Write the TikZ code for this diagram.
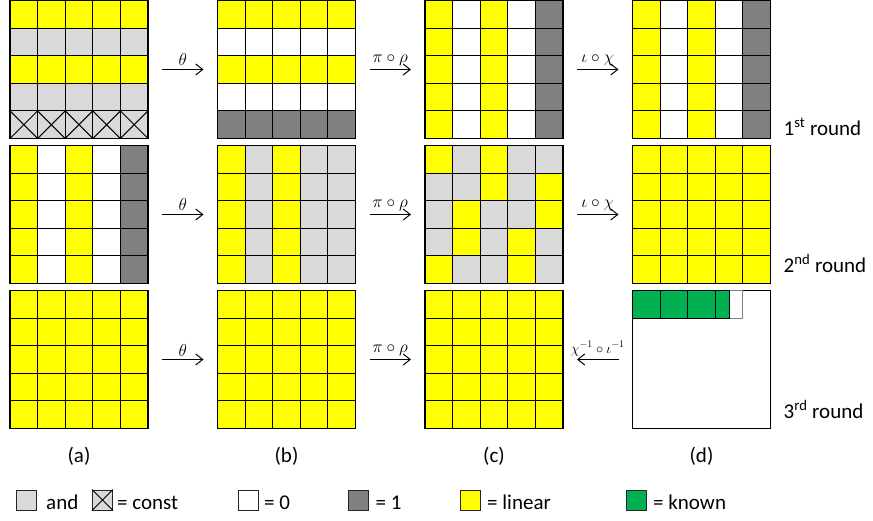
\documentclass[tikz,border=0pt]{standalone}
\usepackage{fontspec}
\setmainfont{Carlito}
\usetikzlibrary{positioning,arrows.meta}
\definecolor{linyellow}{RGB}{255,255,0}
\definecolor{andgray}{RGB}{217,217,217}
\definecolor{onegray}{RGB}{128,128,128}
\definecolor{knowngreen}{RGB}{0,176,80}
% one-letter colour codes for the cell lists
\colorlet{cY}{linyellow}
\colorlet{cG}{andgray}
\colorlet{cW}{white}
\colorlet{cD}{onegray}
\def\cs{27.6pt}
% #1 = frame node, #2 = macro holding the rows
\newcommand{\fillgrid}[2]{%
  \foreach \row [count=\r from 0] in #2 {
    \foreach \cl [count=\k from 0] in \row {
      \filldraw[cellline, fill=c\cl] ([shift={(\k*\cs,-\r*\cs)}]#1.north west) rectangle ++(\cs,-\cs);
    }
  }
}
\def\gridAone{{Y,Y,Y,Y,Y},{G,G,G,G,G},{Y,Y,Y,Y,Y},{G,G,G,G,G},{G,G,G,G,G}}
\def\gridBone{{Y,Y,Y,Y,Y},{W,W,W,W,W},{Y,Y,Y,Y,Y},{W,W,W,W,W},{D,D,D,D,D}}
\def\gridCols{{Y,W,Y,W,D},{Y,W,Y,W,D},{Y,W,Y,W,D},{Y,W,Y,W,D},{Y,W,Y,W,D}}
\def\gridBtwo{{Y,G,Y,G,G},{Y,G,Y,G,G},{Y,G,Y,G,G},{Y,G,Y,G,G},{Y,G,Y,G,G}}
\def\gridCtwo{{Y,G,Y,G,G},{G,G,Y,G,Y},{G,Y,G,G,Y},{G,Y,G,Y,G},{Y,G,G,Y,G}}
\def\gridYellow{{Y,Y,Y,Y,Y},{Y,Y,Y,Y,Y},{Y,Y,Y,Y,Y},{Y,Y,Y,Y,Y},{Y,Y,Y,Y,Y}}

\begin{document}
\begin{tikzpicture}[
    x=1pt, y=1pt,
    every node/.style={font=\fontsize{21}{25}\selectfont},
    frame/.style={minimum size=138pt, inner sep=0pt, outer sep=0pt},
    cellline/.style={draw=black, line width=1.1pt},
    flow/.style={line width=1pt, -{Straight Barb[length=7pt,width=11pt]}, shorten <=14pt, shorten >=14pt},
    maplbl/.style={above=2pt, inner sep=1pt, font=\fontsize{17}{19}\selectfont},
    roundlbl/.style={anchor=base west, inner sep=0pt},
    caplbl/.style={anchor=base, inner sep=0pt},
    legbox/.style={draw=black!85, line width=1pt, minimum size=20pt, inner sep=0pt},
    legtext/.style={inner sep=0pt, text height=18pt, text depth=0pt}
]
\useasboundingbox (0,0) rectangle (873,-521);

% grid frames
\node[frame] (a1) at (79,-69.5) {};
\node[frame, right=69.5pt of a1] (b1) {};
\node[frame, right=69.5pt of b1] (c1) {};
\node[frame, right=69.5pt of c1] (d1) {};
\node[frame, below=7pt of a1] (a2) {};
\node[frame, below=7pt of b1] (b2) {};
\node[frame, below=7pt of c1] (c2) {};
\node[frame, below=7pt of d1] (d2) {};
\node[frame, below=7pt of a2] (a3) {};
\node[frame, below=7pt of b2] (b3) {};
\node[frame, below=7pt of c2] (c3) {};
\node[frame, below=7pt of d2, draw=black, fill=white, line width=1.1pt] (d3) {};

% cells
\fillgrid{a1}{\gridAone}
\fillgrid{b1}{\gridBone}
\fillgrid{c1}{\gridCols}
\fillgrid{d1}{\gridCols}
\fillgrid{a2}{\gridCols}
\fillgrid{b2}{\gridBtwo}
\fillgrid{c2}{\gridCtwo}
\fillgrid{d2}{\gridYellow}
\fillgrid{a3}{\gridYellow}
\fillgrid{b3}{\gridYellow}
\fillgrid{c3}{\gridYellow}
\foreach \k in {0,...,4}
  \draw[line width=1pt] ([shift={(\k*\cs,-4*\cs)}]a1.north west) -- ++(\cs,-\cs) ++(-\cs,0) -- ++(\cs,\cs);
\foreach \k in {0,1,2}
  \filldraw[cellline, fill=knowngreen] ([xshift=\k*\cs]d3.north west) rectangle ++(\cs,-\cs);
\draw[gray, line width=1.1pt] ([xshift=3.5*\cs]d3.north west) rectangle ++(0.5*\cs,-\cs);
\filldraw[cellline, fill=knowngreen] ([xshift=3*\cs]d3.north west) rectangle ++(0.5*\cs,-\cs);

% mappings
\draw[flow] (a1) -- node[maplbl] {$\theta$} (b1);
\draw[flow] (b1) -- node[maplbl] {$\pi\circ\rho$} (c1);
\draw[flow] (c1) -- node[maplbl] {$\iota\circ\chi$} (d1);
\draw[flow] (a2) -- node[maplbl] {$\theta$} (b2);
\draw[flow] (b2) -- node[maplbl] {$\pi\circ\rho$} (c2);
\draw[flow] (c2) -- node[maplbl] {$\iota\circ\chi$} (d2);
\draw[flow] (a3) -- node[maplbl] {$\theta$} (b3);
\draw[flow] (b3) -- node[maplbl] {$\pi\circ\rho$} (c3);
\draw[flow] (d3) -- node[maplbl, font=\fontsize{14}{16}\selectfont] {$\chi^{-1}\circ\iota^{-1}$} (c3);

% rounds
\node[roundlbl] (rnd1) at ([xshift=13pt, yshift=3pt]d1.south east) {1\textsuperscript{st} round};
\node[roundlbl] (rnd2) at ([xshift=13pt, yshift=11pt]d2.south east) {2\textsuperscript{nd} round};
\node[roundlbl] (rnd3) at ([xshift=13pt, yshift=10pt]d3.south east) {3\textsuperscript{rd} round};

% captions
\node[caplbl] (capa) at ([yshift=-34pt]a3.south) {(a)};
\node[caplbl] (capb) at ([yshift=-34pt]b3.south) {(b)};
\node[caplbl] (capc) at ([yshift=-34pt]c3.south) {(c)};
\node[caplbl] (capd) at ([yshift=-34pt]d3.south) {(d)};

% legend
\node[legbox, fill=andgray] (lgand) at (26.5,-500) {};
\node[legtext, right=9pt of lgand] (andtxt) {and};
\node[legbox, fill=andgray] (lgconst) at (102.5,-500) {};
\draw[line width=0.8pt] (lgconst.north west) -- (lgconst.south east) (lgconst.south west) -- (lgconst.north east);
\node[legtext, right=4pt of lgconst] (consttxt) {= const};
\node[legbox, fill=white] (lgzero) at (248.5,-500) {};
\node[legtext, right=5pt of lgzero] (zerotxt) {= 0};
\node[legbox, fill=onegray] (lgone) at (358.5,-500) {};
\node[legtext, right=6.5pt of lgone] (onetxt) {= 1};
\node[legbox, fill=linyellow] (lglin) at (470,-500) {};
\node[legtext, right=6.5pt of lglin] (lintxt) {= linear};
\node[legbox, fill=knowngreen] (lgknown) at (636,-500) {};
\node[legtext, right=6.5pt of lgknown] (knowntxt) {= known};

\end{tikzpicture}
\end{document}
